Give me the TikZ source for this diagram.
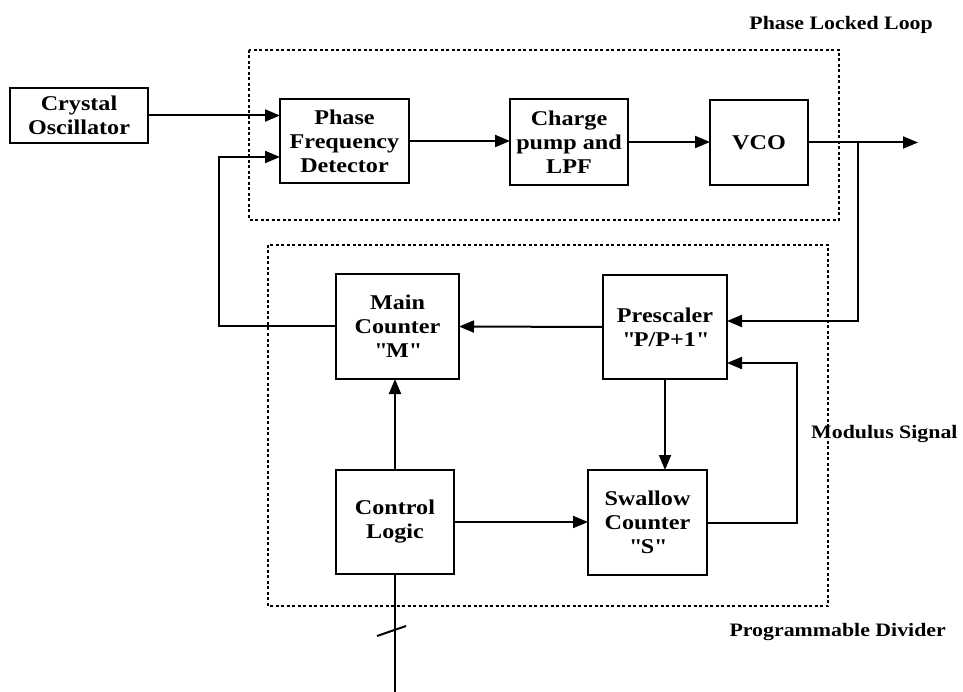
\documentclass[tikz,border=0pt]{standalone}
\usepackage{fontspec}
\setmainfont{Liberation Serif}[FakeStretch=1.15]
\usetikzlibrary{arrows.meta}
\newcommand{\qq}{\textquotedbl}
\begin{document}
\begin{tikzpicture}[x=1pt,y=-1pt,
  box/.style={draw,line width=2pt,align=center,inner sep=0pt,outer sep=0pt,
    font=\bfseries\fontsize{21}{24}\selectfont},
  conn/.style={line width=2pt},
  arr/.style={conn,-{Triangle[length=15pt,width=12pt]}},
  grp/.style={line width=1.3pt,dash pattern=on 3pt off 2.5pt},
  lbl/.style={font=\bfseries\fontsize{19}{22}\selectfont,inner sep=0pt}]
\useasboundingbox (0,0) rectangle (963,692);
% groups
\draw[grp] (249,50) rectangle (839,220);
\draw[grp] (268,245) rectangle (828,606);
% boxes
\node[box,minimum width=138pt,minimum height=55pt] (crystal) at (79,115.5) {Crystal\\Oscillator};
\node[box,minimum width=129pt,minimum height=84pt] (pfd) at (344.5,141) {Phase\\Frequency\\Detector};
\node[box,minimum width=118pt,minimum height=86pt] (cp) at (569,142) {Charge\\pump and\\LPF};
\node[box,minimum width=98pt,minimum height=85pt] (vco) at (759,142.5) {VCO};
\node[box,minimum width=123pt,minimum height=105pt] (main) at (397.5,326.5) {Main\\Counter\\\qq M\qq};
\node[box,minimum width=124pt,minimum height=104pt] (pre) at (665,327) {Prescaler\\\qq P/P+1\qq};
\node[box,minimum width=119pt,minimum height=105pt] (sw) at (647.5,522.5) {Swallow\\Counter\\\qq S\qq};
\node[box,minimum width=118pt,minimum height=104pt] (ctl) at (395,522) {Control\\Logic};
% coordinates
\coordinate (fb) at (219,157);
\coordinate (br) at (858,142.5);
\coordinate (out) at (918,142.5);
\coordinate (mod) at (797,363);
\coordinate (bus) at (395,692);
% connectors
\draw[arr] (crystal.east) -- (pfd.west |- crystal.east);
\draw[arr] (main.west) -| (fb) -- (pfd.west |- fb);
\draw[arr] (pfd.east) -- (cp.west |- pfd.east);
\draw[arr] (cp.east) -- (vco.west |- cp.east);
\draw[arr] (vco.east) -- (out);
\draw[arr] (br) |- ([yshift=6pt]pre.east);
\draw[arr] (sw.east) -| (mod) -- ([yshift=-36pt]pre.east);
\draw[arr] (pre.west) -- (main.east);
\draw[arr] (pre.south) -- (sw.north -| pre.south);
\draw[arr] (ctl.north) -- (main.south -| ctl.north);
\draw[arr] (ctl.east) -- (sw.west |- ctl.east);
\draw[conn] (ctl.south) -- (bus);
\draw[conn] (377,636) -- (406,626);
% labels
\node[lbl,anchor=east] (lpll) at (933,25) {Phase Locked Loop};
\node[lbl,anchor=west] (lmod) at (811,434) {Modulus Signal};
\node[lbl,anchor=east] (ldiv) at (946,632) {Programmable Divider};
\end{tikzpicture}
\end{document}
